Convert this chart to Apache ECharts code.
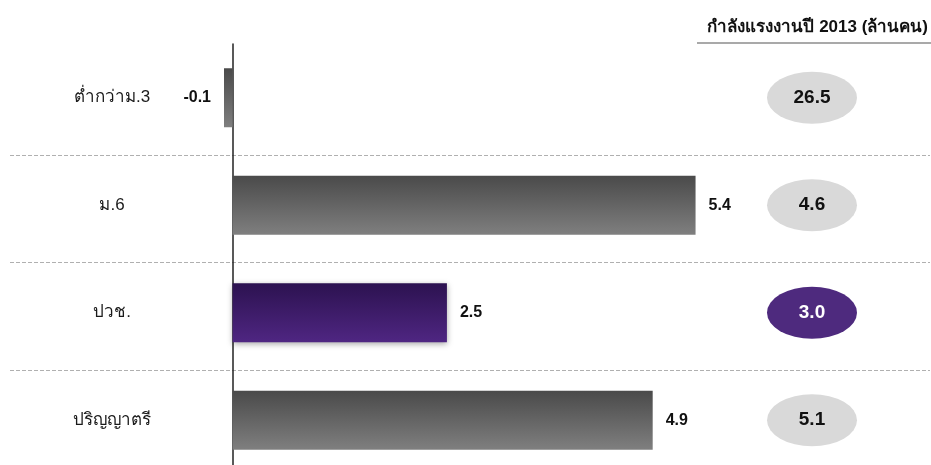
<!DOCTYPE html>
<html>
<head>
<meta charset="UTF-8">
<title></title>
<script src="https://cdn.jsdelivr.net/npm/echarts@6/dist/echarts.min.js"></script>
<style>
  html, body { margin: 0; padding: 0; background: #fff; }
  #main { width: 931px; height: 465px; }
</style>
</head>
<body>
<div id="main"></div>
<script>
  // ข้อมูล
  var categories = ['ต่ำกว่าม.3', 'ม.6', 'ปวช.', 'ปริญญาตรี'];
  var changeValues = [-0.1, 5.4, 2.5, 4.9];
  var laborForce2013 = [26.5, 4.6, 3.0, 5.1];
  var highlightIndex = 2;
  var yearLabel = ['2013'];

  var font = '"Liberation Sans", Arial, sans-serif';

  var grayFill = new echarts.graphic.LinearGradient(0, 0, 0, 1, [
    { offset: 0, color: '#4a4a4a' },
    { offset: 1, color: '#7f7f7f' }
  ]);
  var purpleFill = new echarts.graphic.LinearGradient(0, 0, 0, 1, [
    { offset: 0, color: '#2c1250' },
    { offset: 1, color: '#4f2682' }
  ]);

  var barData = changeValues.map(function (v, i) {
    var hi = i === highlightIndex;
    return {
      value: v,
      itemStyle: hi ? {
        color: purpleFill,
        shadowBlur: 6,
        shadowOffsetY: 2,
        shadowColor: 'rgba(0,0,0,0.35)'
      } : { color: grayFill },
      label: { position: v < 0 ? 'left' : 'right' }
    };
  });

  var bubbleData = laborForce2013.map(function (v, i) {
    var hi = i === highlightIndex;
    return {
      value: [yearLabel[0], categories[i], v],
      itemStyle: { color: hi ? '#4e2a7e' : '#d9d9d9', opacity: 1 },
      label: { color: hi ? '#ffffff' : '#111111' }
    };
  });

  var chart = echarts.init(document.getElementById('main'));
  chart.setOption({
    animation: false,
    title: {
      text: 'กำลังแรงงานปี 2013 (ล้านคน)',
      right: 3,
      top: 19,
      padding: 0,
      textStyle: { fontFamily: font, fontSize: 17, fontWeight: 'bold', color: '#111' }
    },
    graphic: [{
      type: 'line',
      shape: { x1: 697, y1: 43, x2: 931, y2: 43 },
      style: { stroke: '#8c8c8c', lineWidth: 1.5 }
    }],
    grid: [
      { left: 224, width: 523, top: 44, height: 430, outerBoundsMode: 'none' },   // แท่ง
      { left: 10, right: 1, top: 47.5, height: 430, outerBoundsMode: 'none' },    // เส้นแบ่ง
      { left: 767, width: 90, top: 44, height: 430, outerBoundsMode: 'none' }     // วงรี
    ],
    xAxis: [
      { gridIndex: 0, type: 'value', min: -0.1, max: 6, show: false },
      { gridIndex: 1, type: 'value', show: false },
      { gridIndex: 2, type: 'category', data: yearLabel, show: false }
    ],
    yAxis: [
      {
        gridIndex: 0, type: 'category', data: categories, inverse: true,
        axisLine: { onZero: true, lineStyle: { color: '#222', width: 1.5 } },
        axisTick: { show: false },
        axisLabel: { margin: 112, align: 'center', fontFamily: font, fontSize: 17, color: '#1a1a1a' }
      },
      {
        gridIndex: 1, type: 'category', data: categories, inverse: true,
        axisLine: { show: false }, axisTick: { show: false }, axisLabel: { show: false },
        splitLine: {
          show: true,
          interval: function (index) { return index > 0; },
          lineStyle: { color: '#b0b0b0', type: [4, 2], width: 1 }
        }
      },
      {
        gridIndex: 2, type: 'category', data: categories, inverse: true, show: false
      }
    ],
    series: [
      {
        type: 'bar',
        xAxisIndex: 0, yAxisIndex: 0,
        data: barData,
        barWidth: 59,
        label: {
          show: true,
          distance: 13,
          fontFamily: font, fontSize: 16, fontWeight: 'bold', color: '#111',
          formatter: function (p) { return p.value.toFixed(1); }
        }
      },
      {
        type: 'scatter',
        xAxisIndex: 2, yAxisIndex: 2,
        symbol: 'circle',
        symbolSize: [90, 52],
        data: bubbleData,
        label: {
          show: true,
          position: 'inside',
          fontFamily: font, fontSize: 19, fontWeight: 'bold',
          formatter: function (p) { return p.value[2].toFixed(1); }
        }
      }
    ]
  });
</script>
</body>
</html>
